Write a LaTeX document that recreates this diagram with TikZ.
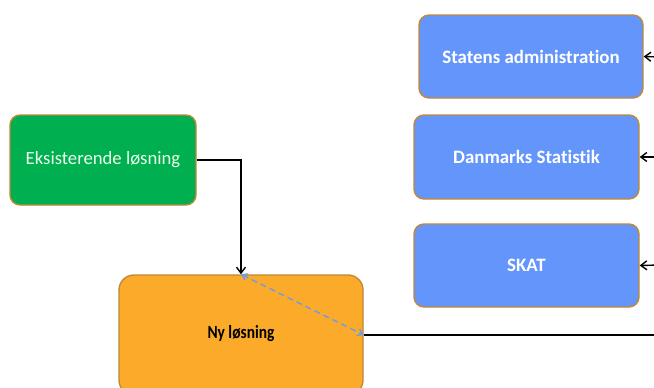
\documentclass[tikz,border=0pt]{standalone}
\usepackage{fontspec}
\setmainfont[Ligatures={NoCommon}]{Carlito}
\usetikzlibrary{arrows.meta}
\definecolor{bluebox}{HTML}{6495FB}
\definecolor{greenbox}{HTML}{00AF50}
\definecolor{orangebox}{HTML}{FBAA2A}
\definecolor{edgec}{HTML}{C08838}
\definecolor{dashblue}{HTML}{6E9CEB}
\tikzset{
  x=1pt, y=-1pt,
  box/.style={draw=edgec, line width=1.4pt, rounded corners=10pt, inner sep=0pt},
  bluestyle/.style={box, fill=bluebox, text=white, font=\fontsize{18.9}{22}\selectfont\bfseries},
  conn/.style={draw=black, line width=1.4pt},
  arr/.style={conn, -{Straight Barb[length=6pt,width=9pt]}},
}
\begin{document}
\begin{tikzpicture}
\clip (0,0) rectangle (654,388);
\fill[white] (0,0) rectangle (654,388);
\node[bluestyle, minimum width=224pt, minimum height=83pt] (sa) at (531,56.5) {Statens administration};
\node[bluestyle, minimum width=225pt, minimum height=84pt] (ds) at (526.5,157) {Danmarks Statistik};
\node[bluestyle, minimum width=225pt, minimum height=83pt] (sk) at (526.5,265.5) {SKAT};
\node[box, fill=greenbox, text=white!92!green, minimum width=186pt, minimum height=90pt, font=\fontsize{18.7}{22}\selectfont] (ek) at (103,160) {Eksisterende løsning};
\node[box, rounded corners=15pt, fill=orangebox, minimum width=244pt, minimum height=120pt] (ny) at (241,335) {};
\node[font=\fontsize{18.6}{22}\selectfont\bfseries] (nyt) at (241,334) {\scalebox{0.83}[1]{Ny løsning}};
\coordinate (rEnd) at (660,335);
\coordinate (r1) at (660,57);
\coordinate (r2) at (660,157);
\coordinate (r3) at (660,265);
\draw[arr] (ek.east) -| (ny.north);
\draw[dashblue, line width=1.4pt, dash pattern=on 6pt off 4pt, {Straight Barb[length=5pt,width=7pt]}-{Straight Barb[length=5pt,width=7pt]}] (ny.north) -- (ny.east);
\draw[conn] (ny.east) -- (rEnd);
\draw[arr] (r1) -- (sa.east);
\draw[arr] (r2) -- (ds.east);
\draw[arr] (r3) -- (sk.east);
\end{tikzpicture}
\end{document}
